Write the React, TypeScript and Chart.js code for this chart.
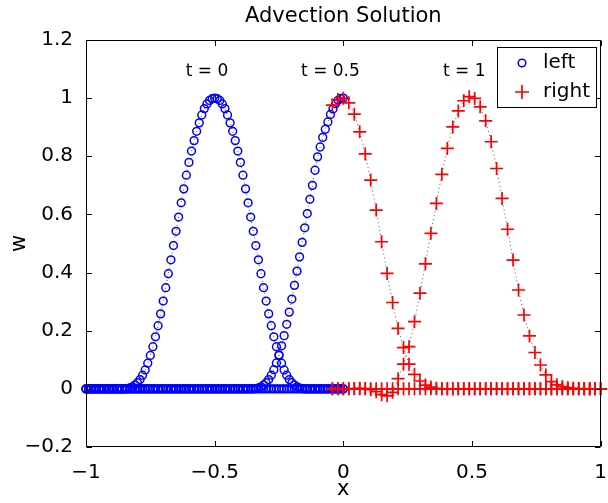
import React, { useEffect, useRef } from 'react';
import { Chart, registerables } from 'chart.js';

Chart.register(...registerables);

// ---- data ----
const leftX = [
  -1, -0.99, -0.98, -0.97, -0.96, -0.95, -0.94, -0.93, -0.92, -0.91,
  -0.9, -0.89, -0.88, -0.87, -0.86, -0.85, -0.84, -0.83, -0.82, -0.81,
  -0.8, -0.79, -0.78, -0.77, -0.76, -0.75, -0.74, -0.73, -0.72, -0.71,
  -0.7, -0.69, -0.68, -0.67, -0.66, -0.65, -0.64, -0.63, -0.62, -0.61,
  -0.6, -0.59, -0.58, -0.57, -0.56, -0.55, -0.54, -0.53, -0.52, -0.51,
  -0.5, -0.49, -0.48, -0.47, -0.46, -0.45, -0.44, -0.43, -0.42, -0.41,
  -0.4, -0.39, -0.38, -0.37, -0.36, -0.35, -0.34, -0.33, -0.32, -0.31,
  -0.3, -0.29, -0.28, -0.27, -0.26, -0.25, -0.24, -0.23, -0.22, -0.21,
  -0.2, -0.19, -0.18, -0.17, -0.16, -0.15, -0.14, -0.13, -0.12, -0.11,
  -0.1, -0.09, -0.08, -0.07, -0.06, -0.05, -0.04, -0.03, -0.02, -0.01,
  0,
];

const leftT0 = [
  0, 0, 0, 0, 0, 0, 0, 0, 0, 0,
  0, 0, 0, 0, 0, 0, 0.001, 0.003, 0.007, 0.013,
  0.021, 0.032, 0.047, 0.065, 0.088, 0.115, 0.145, 0.179, 0.217, 0.258,
  0.302, 0.348, 0.396, 0.444, 0.493, 0.542, 0.591, 0.64, 0.688, 0.735,
  0.779, 0.818, 0.854, 0.886, 0.915, 0.942, 0.964, 0.98, 0.992, 0.998,
  1.0, 0.998, 0.992, 0.98, 0.964, 0.942, 0.915, 0.886, 0.854, 0.818,
  0.779, 0.735, 0.688, 0.64, 0.591, 0.542, 0.493, 0.444, 0.396, 0.348,
  0.302, 0.258, 0.217, 0.179, 0.145, 0.115, 0.088, 0.065, 0.047, 0.032,
  0.021, 0.013, 0.007, 0.003, 0.001, 0, 0, 0, 0, 0,
  0, 0, 0, 0, 0, 0, 0, 0, 0, 0,
  0,
];

const leftT05 = [
  0, 0, 0, 0, 0, 0, 0, 0, 0, 0,
  0, 0, 0, 0, 0, 0, 0, 0, 0, 0,
  0, 0, 0, 0, 0, 0, 0, 0, 0, 0,
  0, 0, 0, 0, 0, 0, 0, 0, 0, 0,
  0, 0, 0, 0, 0, 0, 0, 0, 0, 0,
  0, 0, 0, 0, 0, 0, 0, 0, 0, 0,
  0, 0, 0, 0, 0, 0, 0.001, 0.003, 0.007, 0.013,
  0.021, 0.032, 0.047, 0.066, 0.089, 0.117, 0.148, 0.183, 0.222, 0.264,
  0.309, 0.356, 0.405, 0.454, 0.504, 0.554, 0.603, 0.652, 0.7, 0.752,
  0.798, 0.832, 0.865, 0.893, 0.918, 0.944, 0.963, 0.981, 0.993, 0.999,
  1.0,
];

const leftT1 = [
  0, 0, 0, 0, 0, 0, 0, 0, 0, 0,
  0, 0, 0, 0, 0, 0, 0, 0, 0, 0,
  0, 0, 0, 0, 0, 0, 0, 0, 0, 0,
  0, 0, 0, 0, 0, 0, 0, 0, 0, 0,
  0, 0, 0, 0, 0, 0, 0, 0, 0, 0,
  0, 0, 0, 0, 0, 0, 0, 0, 0, 0,
  0, 0, 0, 0, 0, 0, 0, 0, 0, 0,
  0, 0, 0, 0, 0, 0, 0, 0, 0, 0,
  0, 0, 0, 0, 0, 0, 0, 0, 0, 0,
  0, 0, 0, 0, 0, 0, 0, 0, 0, 0,
  0,
];

const rightX = [
  -0.0426, -0.0213, 0, 0.0213, 0.0426, 0.0638, 0.0851, 0.1064, 0.1277, 0.1489,
  0.1702, 0.1915, 0.2128, 0.234, 0.2553, 0.2766, 0.2979, 0.3191, 0.3404, 0.3617,
  0.383, 0.4043, 0.4255, 0.4468, 0.4681, 0.4894, 0.5106, 0.5319, 0.5532, 0.5745,
  0.5957, 0.617, 0.6383, 0.6596, 0.6809, 0.7021, 0.7234, 0.7447, 0.766, 0.7872,
  0.8085, 0.8298, 0.8511, 0.8723, 0.8936, 0.9149, 0.9362, 0.9574, 0.9787, 1.0,
];

const rightT0 = [
  0, 0, 0, 0, 0, 0, 0, 0, 0, 0,
  0, 0, 0, 0, 0, 0, 0, 0, 0, 0,
  0, 0, 0, 0, 0, 0, 0, 0, 0, 0,
  0, 0, 0, 0, 0, 0, 0, 0, 0, 0,
  0, 0, 0, 0, 0, 0, 0, 0, 0, 0,
];

const rightT05 = [
  0.976, 0.995, 1.0, 0.984, 0.945, 0.884, 0.808, 0.718, 0.615, 0.506,
  0.397, 0.297, 0.208, 0.142, 0.085, 0.05, 0.027, 0.013, 0.006, 0.002,
  0, 0, 0, 0, 0, 0, 0, 0, 0, 0,
  0, 0, 0, 0, 0, 0, 0, 0, 0, 0,
  0, 0, 0, 0, 0, 0, 0, 0, 0, 0,
];

const rightT1 = [
  0, 0, 0, 0, 0.001, 0.002, 0.001, -0.003, -0.01, -0.02,
  -0.024, -0.012, 0.035, 0.085, 0.145, 0.231, 0.329, 0.43, 0.535, 0.638,
  0.738, 0.827, 0.901, 0.956, 0.991, 1.005, 0.999, 0.97, 0.922, 0.85,
  0.758, 0.655, 0.549, 0.443, 0.34, 0.254, 0.182, 0.125, 0.082, 0.048,
  0.025, 0.014, 0.008, 0.004, 0.002, 0.001, 0, 0, 0, 0,
];

const seriesNames = ['left', 'right'];
const annotationLabels = ['t = 0', 't = 0.5', 't = 1'];
const annotationX = [-0.53, -0.05, 0.47];
const annotationY = 1.09;
const titleText = 'Advection Solution';
const xLabel = 'x';
const yLabel = 'w';

const FONT = "'DejaVu Sans', 'Liberation Sans', sans-serif";
const BLUE = '#0000ff';
const RED = '#ff0000';

const pts = (xs: number[], ys: number[]) => xs.map((x, i) => ({ x, y: ys[i] }));

const fmt = (v: number) => {
  const r = Math.round(v * 10) / 10;
  if (Math.abs(r) < 1e-9) return '0';
  return String(r).replace('-', '\u2212');
};

const overlayPlugin = {
  id: 'matlabOverlay',
  afterDatasetsDraw(chart: any) {
    const { ctx, chartArea: a, scales } = chart;
    const xs = scales.x;
    const ys = scales.y;
    ctx.save();
    ctx.strokeStyle = '#000';
    ctx.lineWidth = 1;
    const L = Math.round(a.left) + 0.5;
    const R = Math.round(a.right) - 0.5;
    const T = Math.round(a.top) + 0.5;
    const B = Math.round(a.bottom) - 0.5;
    ctx.beginPath();
    ctx.rect(L, T, R - L, B - T);
    const tl = 5.5;
    xs.ticks.forEach((t: any) => {
      const px = Math.round(xs.getPixelForValue(t.value)) + 0.5;
      ctx.moveTo(px, B);
      ctx.lineTo(px, B - tl);
      ctx.moveTo(px, T);
      ctx.lineTo(px, T + tl);
    });
    ys.ticks.forEach((t: any) => {
      const py = Math.round(ys.getPixelForValue(t.value)) + 0.5;
      ctx.moveTo(L, py);
      ctx.lineTo(L + tl, py);
      ctx.moveTo(R, py);
      ctx.lineTo(R - tl, py);
    });
    ctx.stroke();

    // annotations
    ctx.fillStyle = '#000';
    ctx.font = `17px ${FONT}`;
    ctx.textAlign = 'center';
    ctx.textBaseline = 'middle';
    annotationLabels.forEach((s, i) => {
      ctx.fillText(s, xs.getPixelForValue(annotationX[i]), ys.getPixelForValue(annotationY));
    });

    // legend
    const lw = 99;
    const lh = 60;
    const lx = Math.round(a.right) - 5 - lw;
    const ly = Math.round(a.top) + 7;
    ctx.fillStyle = '#fff';
    ctx.fillRect(lx, ly, lw, lh);
    ctx.strokeStyle = '#000';
    ctx.lineWidth = 1;
    ctx.strokeRect(lx + 0.5, ly + 0.5, lw, lh);
    const mx = lx + 25;
    const y1 = ly + 16;
    const y2 = ly + 45;
    ctx.strokeStyle = BLUE;
    ctx.lineWidth = 1.5;
    ctx.beginPath();
    ctx.arc(mx, y1, 3.8, 0, Math.PI * 2);
    ctx.stroke();
    ctx.strokeStyle = RED;
    ctx.lineWidth = 1.7;
    ctx.beginPath();
    ctx.moveTo(mx - 7, y2);
    ctx.lineTo(mx + 7, y2);
    ctx.moveTo(mx, y2 - 7);
    ctx.lineTo(mx, y2 + 7);
    ctx.stroke();
    ctx.fillStyle = '#000';
    ctx.font = `20px ${FONT}`;
    ctx.textAlign = 'left';
    ctx.textBaseline = 'middle';
    ctx.fillText(seriesNames[0], lx + 46, y1);
    ctx.fillText(seriesNames[1], lx + 46, y2);
    ctx.restore();
  },
  afterDraw(chart: any) {
    const { ctx, chartArea: a } = chart;
    ctx.save();
    ctx.fillStyle = '#000';
    ctx.textAlign = 'center';
    ctx.textBaseline = 'alphabetic';
    ctx.font = `21px ${FONT}`;
    ctx.fillText(titleText, (a.left + a.right) / 2, 21.5);
    ctx.font = `21px ${FONT}`;
    ctx.fillText(xLabel, (a.left + a.right) / 2, 495);
    ctx.translate(25, (a.top + a.bottom) / 2);
    ctx.rotate(-Math.PI / 2);
    ctx.fillText(yLabel, 0, 0);
    ctx.restore();
  },
};

// the canvas is a little wider than the 608px window so that the last
// x tick label ("1") overflows the window edge as in the reference
const CANVAS_W = 613;
const CANVAS_H = 503;

export default function App() {
  const ref = useRef<HTMLCanvasElement>(null);
  useEffect(() => {
    if (!ref.current) return;
    const lineCommon = {
      showLine: true,
      borderColor: 'rgba(60,60,60,0.85)',
      borderWidth: 1,
      borderDash: [1, 3],
      clip: false as any,
    };
    const blue = {
      ...lineCommon,
      pointStyle: 'circle',
      pointRadius: 3.9,
      pointBorderWidth: 1.5,
      pointBorderColor: BLUE,
      pointBackgroundColor: 'rgba(0,0,0,0)',
      order: 1,
    };
    const red = {
      ...lineCommon,
      pointStyle: 'cross',
      pointRadius: 6.5,
      pointBorderWidth: 1.7,
      pointBorderColor: RED,
      pointBackgroundColor: 'rgba(0,0,0,0)',
      order: 0,
    };
    const chart = new Chart(ref.current, {
      type: 'scatter',
      data: {
        datasets: [
          { label: seriesNames[0], data: pts(leftX, leftT0), ...blue },
          { label: seriesNames[0], data: pts(leftX, leftT05), ...blue },
          { label: seriesNames[0], data: pts(leftX, leftT1), ...blue },
          { label: seriesNames[1], data: pts(rightX, rightT0), ...red },
          { label: seriesNames[1], data: pts(rightX, rightT05), ...red },
          { label: seriesNames[1], data: pts(rightX, rightT1), ...red },
        ] as any,
      },
      options: {
        animation: false,
        responsive: false,
        maintainAspectRatio: false,
        devicePixelRatio: 1,
        events: [],
        layout: { padding: { top: 40, right: 1, left: 0, bottom: 0 } },
        plugins: {
          legend: { display: false },
          tooltip: { enabled: false },
          title: { display: false },
        },
        scales: {
          x: {
            type: 'linear',
            min: -1,
            max: 1,
            grid: { display: false },
            border: { display: false },
            ticks: {
              stepSize: 0.5,
              autoSkip: false,
              maxRotation: 0,
              padding: 6,
              color: '#000',
              font: { family: FONT, size: 20 },
              callback: (v: any) => fmt(Number(v)),
            },
            afterFit: (s: any) => {
              s.height = 56;
            },
          },
          y: {
            type: 'linear',
            min: -0.2,
            max: 1.2,
            grid: { display: false },
            border: { display: false },
            ticks: {
              stepSize: 0.2,
              autoSkip: false,
              padding: 5,
              color: '#000',
              font: { family: FONT, size: 20 },
              callback: (v: any) => fmt(Number(v)),
            },
            afterFit: (s: any) => {
              s.width = 86;
            },
          },
        },
      },
      plugins: [overlayPlugin],
    });
    return () => chart.destroy();
  }, []);
  return (
    <div style={{ position: 'fixed', left: 0, top: 0, width: 608, height: 503, background: '#fff', overflow: 'hidden' }}>
      <canvas ref={ref} width={CANVAS_W} height={CANVAS_H} style={{ display: 'block', width: CANVAS_W, height: CANVAS_H }} />
    </div>
  );
}
